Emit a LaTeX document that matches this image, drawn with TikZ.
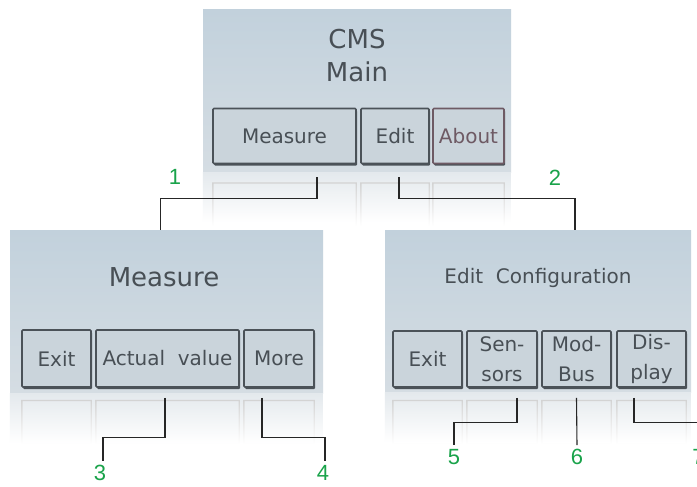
\documentclass[tikz,border=0pt]{standalone}
\usepackage{fontspec}
\newfontfamily\lcdfont{DejaVu Sans}
\newfontfamily\numfont{Liberation Sans}
\usetikzlibrary{shadows}
\definecolor{lcdtop}{HTML}{C2D1DC}
\definecolor{lcdbot}{HTML}{D5DDE3}
\definecolor{keyfill}{HTML}{CAD4DB}
\definecolor{keyline}{HTML}{4B5258}
\definecolor{aboutline}{HTML}{6E5A64}
\definecolor{lcdtext}{HTML}{484F55}
\definecolor{numgreen}{HTML}{19A34A}
\tikzset{
  screen/.style n args={2}{inner sep=0pt, minimum width=#1, minimum height=#2,
    top color=lcdtop, bottom color=lcdbot, draw=none},
  title/.style={text=lcdtext, align=center, font=\lcdfont\fontsize{26}{33}\selectfont},
  key/.style={draw=keyline, line width=1.6pt, fill=keyfill, rounded corners=1pt,
    minimum width=#1, text=lcdtext, align=center, inner sep=0pt,
    font=\lcdfont\fontsize{20}{30}\selectfont,
    drop shadow={shadow xshift=1.2pt, shadow yshift=-2pt, fill=keyline, opacity=1}},
  mirror/.style={top color=gray!35, bottom color=white, even odd rule, draw=none},
  band/.style={top color=lcdbot!65!white, bottom color=white, draw=none},
  link/.style={draw=black!85, line width=1.1pt},
  num/.style={text=numgreen, inner sep=4pt, font=\numfont\fontsize{22}{22}\selectfont}
}
\begin{document}
\begin{tikzpicture}[x=1pt,y=-1pt]
  \useasboundingbox[fill=white] (0,0) rectangle (697,487);

  % Bildschirme
  \node[screen={308pt}{162pt}] (sMain) at (357,91) {};
  \node[screen={313pt}{163pt}] (sMeasure) at (166.5,311.5) {};
  \node[screen={306pt}{162pt}] (sEdit) at (538,311) {};

  % Spiegelung unter den Bildschirmen
  \fill[band] (sMain.south west) rectangle ++(308,50);
  \fill[band] (sMeasure.south west) rectangle ++(313,50);
  \fill[band] (sEdit.south west) rectangle ++(306,50);

  % Titel
  \node[title] (tMain) at (357,56) {CMS\\Main};
  \node[title] (tMeasure) at (164,277) {Measure};
  \node[title, font=\lcdfont\fontsize{20}{24}\selectfont] (tEdit) at (538,278) {Edit\ \ Configuration};

  % Tasten
  \node[key=143pt, minimum height=55pt] (bMeasure) at (284.5,136) {Measure};
  \node[key=68pt, minimum height=55pt] (bEdit) at (395,136) {Edit};
  \node[key=71pt, minimum height=55pt, draw=aboutline, text=aboutline] (bAbout) at (468.5,136) {About};

  \node[key=69pt, minimum height=57pt] (bExitA) at (56.5,358.5) {Exit};
  \node[key=143pt, minimum height=57pt] (bActual) at (167.5,358.5) {Actual\ \ value};
  \node[key=70pt, minimum height=57pt] (bMore) at (279,358.5) {More};

  \node[key=69pt, minimum height=56pt] (bExitB) at (427.5,359) {Exit};
  \node[key=70pt, minimum height=56pt] (bSensors) at (502,359) {Sen-\\sors};
  \node[key=69pt, minimum height=56pt] (bModBus) at (576.5,359) {Mod-\\Bus};
  \node[key=69pt, minimum height=56pt] (bDisplay) at (651.5,359) {Dis-\\play};

  % gespiegelte Tasten, nach unten ausgeblendet
  \foreach \b in {bMeasure,bEdit,bAbout}
    \shade[mirror] ([yshift=-18pt]\b.south west) rectangle ([yshift=-62pt]\b.south east)
      ([xshift=1.3pt,yshift=-19.3pt]\b.south west) rectangle ([xshift=-1.3pt,yshift=-62pt]\b.south east);
  \foreach \b in {bExitA,bActual,bMore,bExitB,bSensors,bModBus,bDisplay}
    \shade[mirror] ([yshift=-12pt]\b.south west) rectangle ([yshift=-56pt]\b.south east)
      ([xshift=1.3pt,yshift=-13.3pt]\b.south west) rectangle ([xshift=-1.3pt,yshift=-56pt]\b.south east);

  % Nummern
  \node[num] (n1) at (175,177) {1};
  \node[num] (n2) at (555,178) {2};
  \node[num] (n3) at (100,473) {3};
  \node[num] (n4) at (323,473) {4};
  \node[num] (n5) at (454,457) {5};
  \node[num] (n6) at (577,457) {6};
  \node[num] (n7) at (698.5,457) {7};

  % Verbindungen
  \draw[link] ([xshift=32.5pt,yshift=-13pt]bMeasure.south) -- ++(0,21) -| ([xshift=-6pt]sMeasure.north);
  \draw[link] ([xshift=4pt,yshift=-13pt]bEdit.south) -- ++(0,21) -| ([xshift=37pt]sEdit.north);
  \draw[link] ([xshift=-2.5pt,yshift=-10pt]bActual.south) -- ++(0,40) -| ([xshift=3pt]n3.north);
  \draw[link] ([xshift=-17pt,yshift=-10pt]bMore.south) -- ++(0,40) -| ([xshift=2pt]n4.north);
  \draw[link] ([xshift=15pt,yshift=-10pt]bSensors.south) -- ++(0,25) -| (n5.north);
  \draw[link] ([yshift=-10pt]bModBus.south) -- (n6.north);
  \draw[link] ([xshift=-17.5pt,yshift=-10pt]bDisplay.south) -- ++(0,25) -| (n7.north);
\end{tikzpicture}
\end{document}
